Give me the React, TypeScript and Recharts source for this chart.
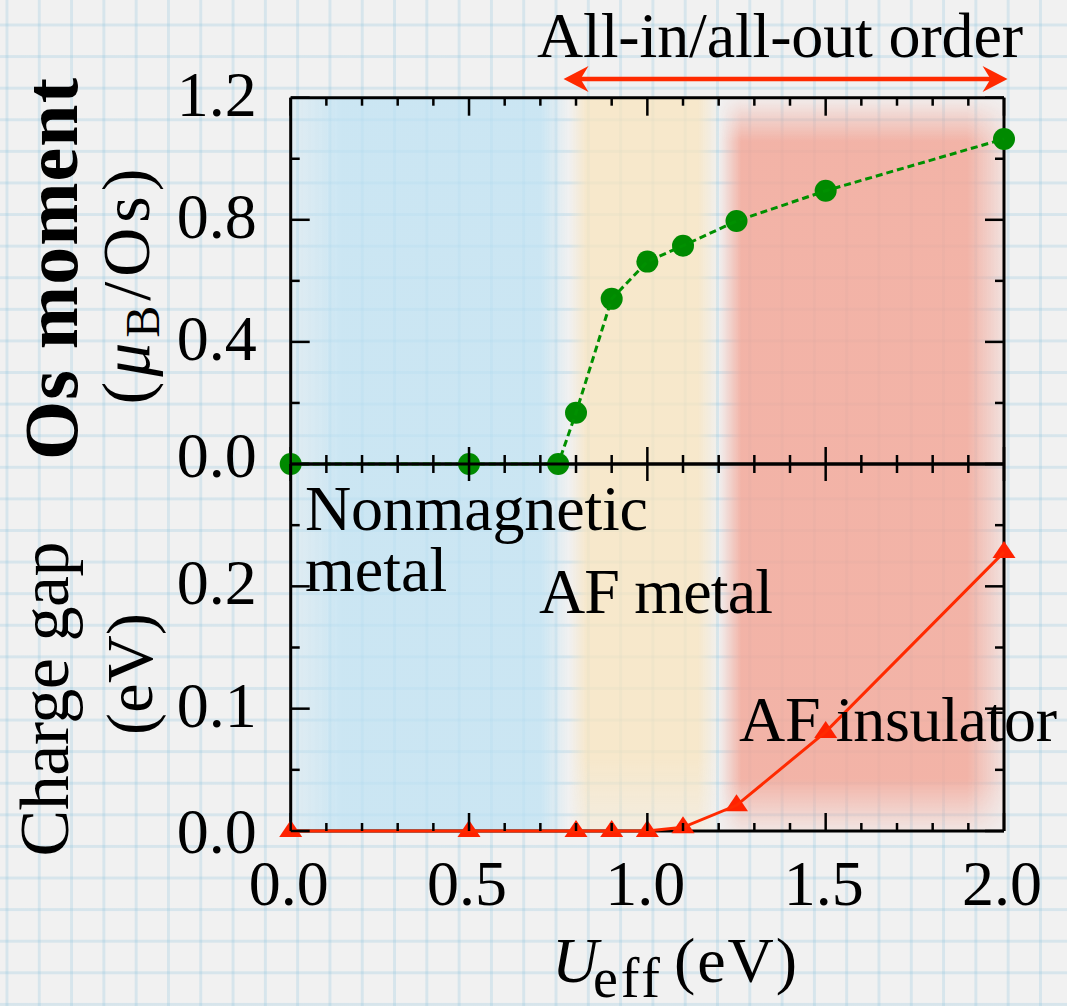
import React from 'react';
import { LineChart, Line, XAxis, YAxis, ReferenceArea, ReferenceLine } from 'recharts';

// ---------------- data ----------------
const momentU = [0, 0.5, 0.75, 0.8, 0.9, 1.0, 1.1, 1.25, 1.5, 2.0];
const momentVal = [0, 0, 0, 0.168, 0.541, 0.663, 0.715, 0.796, 0.895, 1.065];
const gapU = [0, 0.5, 0.8, 0.9, 1.0, 1.1, 1.25, 1.5, 2.0];
const gapVal = [0, 0, 0, 0, 0, 0.003, 0.021, 0.081, 0.228];

const xTicks = [0, 0.1, 0.2, 0.3, 0.4, 0.5, 0.6, 0.7, 0.8, 0.9, 1.0, 1.1, 1.2, 1.3, 1.4, 1.5, 1.6, 1.7, 1.8, 1.9, 2.0];
const xMajor = [0, 0.5, 1.0, 1.5, 2.0];
const momentTicks = [0, 0.2, 0.4, 0.6, 0.8, 1.0, 1.2];
const momentMajor = [0, 0.4, 0.8, 1.2];
const gapTicks = [0, 0.05, 0.1, 0.15, 0.2, 0.25];
const gapMajor = [0, 0.1, 0.2];

// phase regions (U_eff ranges)
const phaseFrom = [0, 0.78, 1.2];
const phaseTo = [0.78, 1.2, 2.0];
const phaseFill = ['url(#gBlue)', 'url(#gYellow)', 'url(#gRed)'];
const phaseMask = ['url(#mBlue)', 'url(#mYellow)', 'url(#mRed)'];

// all-in/all-out order arrow range
const orderFrom = 0.765;
const orderTo = 2.01;
const orderLevel = 1.261;

const momentData = momentU.map((u, i) => ({ u, m: momentVal[i] }));
const gapData = gapU.map((u, i) => ({ u, g: gapVal[i] }));

// ---------------- layout ----------------
const W = 1067;
const H = 1006;
const PL = 290.7;
const PR = 1004;
const TOP = 97.7;
const MID = 464;
const BOT = 831;
const FONT = "'Liberation Serif', 'Times New Roman', serif";
const AX = 3;

const isIn = (arr: number[], v: number) => arr.some((a) => Math.abs(a - v) < 1e-6);

const MidXTick = (p: any) => {
  const major = isIn(xMajor, p.payload.value);
  const h = major ? 17 : 9;
  return <line x1={p.x} x2={p.x} y1={p.y - h} y2={p.y + h} stroke="#000" strokeWidth={2.5} />;
};
const TopXTick = (p: any) => {
  const major = isIn(xMajor, p.payload.value);
  const h = major ? 18 : 8;
  return <line x1={p.x} x2={p.x} y1={p.y} y2={p.y + h} stroke="#000" strokeWidth={2.5} />;
};
const BottomXTick = (p: any) => {
  const v = p.payload.value;
  const major = isIn(xMajor, v);
  const h = major ? 18 : 8;
  return (
    <g>
      <line x1={p.x} x2={p.x} y1={p.y} y2={p.y - h} stroke="#000" strokeWidth={2.5} />
      {major && (
        <text x={p.x - 2} y={p.y + 74} textAnchor="middle" fontFamily={FONT} fontSize={64} fill="#000">
          {v.toFixed(1)}
        </text>
      )}
    </g>
  );
};
const makeLeftYTick = (majors: number[], zeroDy: number) => (p: any) => {
  const v = p.payload.value;
  const major = isIn(majors, v);
  const h = major ? 19 : 9;
  const dy = Math.abs(v) < 1e-9 ? zeroDy : 18;
  return (
    <g>
      <line x1={p.x} x2={p.x + h} y1={p.y} y2={p.y} stroke="#000" strokeWidth={2.5} />
      {major && (
        <text x={p.x - 34} y={p.y + dy} textAnchor="end" fontFamily={FONT} fontSize={64} fill="#000">
          {v.toFixed(1)}
        </text>
      )}
    </g>
  );
};
const makeRightYTick = (majors: number[]) => (p: any) => {
  const major = isIn(majors, p.payload.value);
  const h = major ? 19 : 9;
  return <line x1={p.x} x2={p.x - h} y1={p.y} y2={p.y} stroke="#000" strokeWidth={2.5} />;
};

const GreenDot = (p: any) => (
  <circle key={`g${p.index}`} cx={p.cx} cy={p.cy} r={11} fill="#008a00" />
);
const RedTri = (p: any) => (
  <path
    key={`r${p.index}`}
    d={`M${p.cx},${p.cy - 11} L${p.cx + 11.5},${p.cy + 6} L${p.cx - 11.5},${p.cy + 6} Z`}
    fill="#ff2200"
  />
);

const ArrowShape = (p: any) => {
  const { x1, y1, x2 } = p;
  const y = y1;
  return (
    <g>
      <line x1={x1 + 10} x2={x2 - 10} y1={y} y2={y} stroke="#ff2a00" strokeWidth={4.5} />
      <path d={`M${x2},${y} L${x2 - 25},${y - 13} L${x2 - 17},${y} L${x2 - 25},${y + 13} Z`} fill="#ff2a00" />
      <path d={`M${x1},${y} L${x1 + 25},${y - 13} L${x1 + 17},${y} L${x1 + 25},${y + 13} Z`} fill="#ff2a00" />
    </g>
  );
};

const axisLine = { stroke: '#000', strokeWidth: AX };

const paper: React.CSSProperties = {
  position: 'absolute',
  left: 0,
  top: 0,
  width: W,
  height: H,
  overflow: 'hidden',
  backgroundColor: '#f1f1f1',
  backgroundImage:
    'linear-gradient(to right, rgba(140,195,220,0.26) 3px, transparent 3px), linear-gradient(to bottom, rgba(140,195,220,0.26) 3px, transparent 3px)',
  backgroundSize: '32.3px 31.6px',
  backgroundPosition: '5.5px 23.5px',
};

const layer: React.CSSProperties = { position: 'absolute', left: 0, top: 0 };

export default function App() {
  return (
    <div style={paper}>
      <svg width={0} height={0} style={{ position: 'absolute' }}>
        <defs>
          <linearGradient id="gBlue" x1="0" y1="0" x2="1" y2="0">
            <stop offset="0" stopColor="#bde2f4" stopOpacity={0.3} />
            <stop offset="0.18" stopColor="#bde2f4" stopOpacity={0.72} />
            <stop offset="0.9" stopColor="#bde2f4" stopOpacity={0.72} />
            <stop offset="1" stopColor="#bde2f4" stopOpacity={0} />
          </linearGradient>
          <linearGradient id="gYellow" x1="0" y1="0" x2="1" y2="0">
            <stop offset="0" stopColor="#f8e4be" stopOpacity={0} />
            <stop offset="0.12" stopColor="#f8e4be" stopOpacity={0.75} />
            <stop offset="0.86" stopColor="#f8e4be" stopOpacity={0.75} />
            <stop offset="1" stopColor="#f8e4be" stopOpacity={0} />
          </linearGradient>
          <linearGradient id="gRed" x1="0" y1="0" x2="1" y2="0">
            <stop offset="0" stopColor="#f2a596" stopOpacity={0} />
            <stop offset="0.08" stopColor="#f2a596" stopOpacity={0.82} />
            <stop offset="0.87" stopColor="#f2a596" stopOpacity={0.82} />
            <stop offset="1" stopColor="#f2a596" stopOpacity={0.2} />
          </linearGradient>
          <linearGradient id="vBlue" x1="0" y1="0" x2="0" y2="1">
            <stop offset="0" stopColor="#fff" />
            <stop offset="1" stopColor="#fff" />
          </linearGradient>
          <linearGradient id="vYellow" x1="0" y1="0" x2="0" y2="1">
            <stop offset="0" stopColor="#fff" />
            <stop offset="0.9" stopColor="#fff" />
            <stop offset="1" stopColor="#777" />
          </linearGradient>
          <linearGradient id="vRed" x1="0" y1="0" x2="0" y2="1">
            <stop offset="0" stopColor="#111" />
            <stop offset="0.06" stopColor="#fff" />
            <stop offset="0.93" stopColor="#fff" />
            <stop offset="1" stopColor="#333" />
          </linearGradient>
          <mask id="mBlue" maskUnits="objectBoundingBox" maskContentUnits="objectBoundingBox" x="0" y="0" width="1" height="1">
            <rect x="0" y="0" width="1" height="1" fill="url(#vBlue)" />
          </mask>
          <mask id="mYellow" maskUnits="objectBoundingBox" maskContentUnits="objectBoundingBox" x="0" y="0" width="1" height="1">
            <rect x="0" y="0" width="1" height="1" fill="url(#vYellow)" />
          </mask>
          <mask id="mRed" maskUnits="objectBoundingBox" maskContentUnits="objectBoundingBox" x="0" y="0" width="1" height="1">
            <rect x="0" y="0" width="1" height="1" fill="url(#vRed)" />
          </mask>
        </defs>
      </svg>

      {/* Top panel: Os moment */}
      <div style={layer}>
        <LineChart
          width={W}
          height={H}
          data={momentData}
          margin={{ top: TOP - 1, right: W - PR - 1, left: PL - 1, bottom: H - MID - 1 }}
        >
          {phaseFrom.map((f, i) => (
            <ReferenceArea
              key={`ph${i}`}
              x1={f}
              x2={phaseTo[i]}
              y1={-1.2}
              y2={1.2}
              ifOverflow="visible"
              shape={(p: any) => (
                <rect x={p.x} y={p.y} width={p.width} height={p.height} fill={phaseFill[i]} mask={phaseMask[i]} />
              )}
            />
          ))}
          <XAxis
            dataKey="u"
            type="number"
            domain={[0, 2]}
            ticks={xTicks}
            interval={0}
            height={1}
            tickSize={0}
            tickMargin={0}
            axisLine={axisLine}
            tickLine={false}
            tick={(p: any) => <MidXTick {...p} />}
          />
          <XAxis
            xAxisId="top"
            orientation="top"
            dataKey="u"
            type="number"
            domain={[0, 2]}
            allowDataOverflow
            ticks={xTicks}
            interval={0}
            height={1}
            tickSize={0}
            tickMargin={0}
            axisLine={axisLine}
            tickLine={false}
            tick={(p: any) => <TopXTick {...p} />}
          />
          <YAxis
            type="number"
            domain={[0, 1.2]}
            ticks={momentTicks}
            interval={0}
            width={1}
            tickSize={0}
            tickMargin={0}
            axisLine={axisLine}
            tickLine={false}
            tick={makeLeftYTick(momentMajor, 13)}
          />
          <YAxis
            yAxisId="right"
            orientation="right"
            type="number"
            domain={[0, 1.2]}
            allowDataOverflow
            ticks={momentTicks}
            interval={0}
            width={1}
            tickSize={0}
            tickMargin={0}
            axisLine={axisLine}
            tickLine={false}
            tick={makeRightYTick(momentMajor)}
          />
          <ReferenceLine
            segment={[
              { x: orderFrom, y: orderLevel },
              { x: orderTo, y: orderLevel },
            ]}
            ifOverflow="visible"
            shape={ArrowShape}
          />
          <Line
            type="linear"
            dataKey="m"
            stroke="#009000"
            strokeWidth={3}
            strokeDasharray="7 4"
            dot={GreenDot}
            activeDot={false}
            isAnimationActive={false}
            zIndex={700}
          />
        </LineChart>
      </div>

      {/* Bottom panel: charge gap */}
      <div style={layer}>
        <LineChart
          width={W}
          height={H}
          data={gapData}
          margin={{ top: MID - 1, right: W - PR - 1, left: PL - 1, bottom: H - BOT - 1 }}
        >
          <XAxis
            dataKey="u"
            type="number"
            domain={[0, 2]}
            ticks={xTicks}
            interval={0}
            height={1}
            tickSize={0}
            tickMargin={0}
            axisLine={axisLine}
            tickLine={false}
            tick={(p: any) => <BottomXTick {...p} />}
          />
          <XAxis
            xAxisId="top"
            orientation="top"
            dataKey="u"
            type="number"
            domain={[0, 2]}
            allowDataOverflow
            ticks={xTicks}
            interval={0}
            height={1}
            tickSize={0}
            tickMargin={0}
            axisLine={axisLine}
            tickLine={false}
            tick={() => <g />}
          />
          <YAxis
            type="number"
            domain={[0, 0.3]}
            ticks={gapTicks}
            interval={0}
            width={1}
            tickSize={0}
            tickMargin={0}
            axisLine={axisLine}
            tickLine={false}
            tick={makeLeftYTick(gapMajor, 22)}
          />
          <YAxis
            yAxisId="right"
            orientation="right"
            type="number"
            domain={[0, 0.3]}
            allowDataOverflow
            ticks={gapTicks}
            interval={0}
            width={1}
            tickSize={0}
            tickMargin={0}
            axisLine={axisLine}
            tickLine={false}
            tick={makeRightYTick(gapMajor)}
          />
          <Line
            type="linear"
            dataKey="g"
            stroke="#ff2a00"
            strokeWidth={3}
            dot={RedTri}
            activeDot={false}
            isAnimationActive={false}
            zIndex={700}
          />
        </LineChart>
      </div>

      {/* Text annotations and axis titles */}
      <svg width={W} height={H} style={{ ...layer, pointerEvents: 'none' }} fontFamily={FONT} fill="#000">
        <text x={537} y={57} fontSize={64} textLength={486} lengthAdjust="spacing">
          All-in/all-out order
        </text>
        <text x={305} y={530} fontSize={64} textLength={343} lengthAdjust="spacing">
          Nonmagnetic
        </text>
        <text x={305} y={591} fontSize={64}>
          metal
        </text>
        <text x={539} y={613} fontSize={64} textLength={234} lengthAdjust="spacing">
          AF metal
        </text>
        <text x={739} y={741} fontSize={64} textLength={318} lengthAdjust="spacing">
          AF insulator
        </text>

        <text
          x={76.5}
          y={269}
          fontSize={76}
          fontWeight="bold"
          textAnchor="middle"
          transform="rotate(-90 76.5 269)"
          textLength={382}
          lengthAdjust="spacing"
        >
          Os moment
        </text>
        <text x={149} y={284} fontSize={68} textAnchor="middle" transform="rotate(-90 149 284)" letterSpacing={5}>
          (<tspan fontStyle="italic">μ</tspan>
          <tspan fontSize={48} dy={10}>B</tspan>
          <tspan dy={-10}>/Os)</tspan>
        </text>
        <text x={68} y={699} fontSize={70} textAnchor="middle" transform="rotate(-90 68 699)" textLength={315} lengthAdjust="spacing">
          Charge gap
        </text>
        <text x={152} y={674} fontSize={66} textAnchor="middle" transform="rotate(-90 152 674)" textLength={122} lengthAdjust="spacing">
          (eV)
        </text>

        <text x={552} y={982} fontSize={64} fontStyle="italic">
          U
        </text>
        <text x={593} y={997} fontSize={56} textLength={67} lengthAdjust="spacing">
          eff
        </text>
        <text x={674} y={982} fontSize={64} textLength={123} lengthAdjust="spacing">
          (eV)
        </text>
      </svg>
    </div>
  );
}
